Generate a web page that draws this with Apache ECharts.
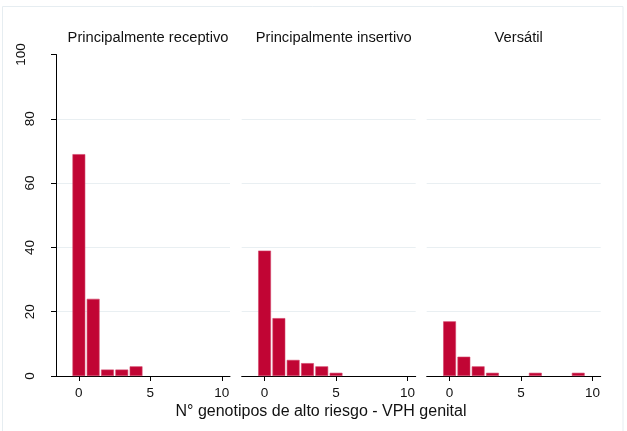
<!DOCTYPE html>
<html>
<head>
<meta charset="utf-8">
<script src="https://cdn.jsdelivr.net/npm/echarts@6/dist/echarts.min.js"></script>
<style>html,body{margin:0;padding:0;background:#fff}#c{width:627px;height:431px}</style>
</head>
<body>
<div id="c"></div>
<script>
const panelTitles = ['Principalmente receptivo', 'Principalmente insertivo', 'Versátil'];
const genotypeCounts = [0, 1, 2, 3, 4, 5, 6, 7, 8, 9];
const receptivo = [69, 24, 2, 2, 3, 0, 0, 0, 0, 0];
const insertivo = [39, 18, 5, 4, 3, 1, 0, 0, 0, 0];
const versatil = [17, 6, 3, 1, 0, 0, 1, 0, 0, 1];
const xTicks = [0, 5, 10];
const yTicks = [0, 20, 40, 60, 80, 100];
const xTitle = 'N° genotipos de alto riesgo - VPH genital';

const panels = [receptivo, insertivo, versatil];
const lefts = [56, 241.7, 426.7];
const W = 174, TOP = 54.5, H = 321.5;
const FONT = 'Liberation Sans, Arial, sans-serif';
const BAR = '#c10534';

const grid = [], xAxis = [], yAxis = [], series = [], title = [];
panels.forEach((vals, i) => {
  grid.push({left: lefts[i], top: TOP, width: W, height: H, containLabel: false});
  xAxis.push({
    type: 'value', gridIndex: i, min: -1.6, max: 10.57,
    axisLine: {show: true, onZero: false, lineStyle: {color: '#000', width: 1}},
    axisTick: {show: true, inside: false, length: 5, customValues: xTicks, lineStyle: {color: '#000'}},
    axisLabel: {show: true, customValues: xTicks, fontSize: 13.5, color: '#111', fontFamily: FONT, margin: 10},
    splitLine: {show: false}
  });
  yAxis.push({
    type: 'value', gridIndex: i, min: 0, max: 100, interval: 20,
    axisLine: {show: i === 0, onZero: false, lineStyle: {color: '#000', width: 1}},
    axisTick: {show: i === 0, length: 5, lineStyle: {color: '#000'}},
    axisLabel: {show: i === 0, rotate: 90, fontSize: 13.5, color: '#111', fontFamily: FONT, margin: 18.5,
      formatter: v => yTicks.includes(v) ? (v === 100 ? '{h|' + v + '}' : '{n|' + v + '}') : '',
      rich: {
        n: {fontSize: 13.5, color: '#111', fontFamily: FONT},
        h: {fontSize: 13.5, color: '#111', fontFamily: FONT, padding: [0, 0, 9, 0]}
      }},
    splitLine: {show: true, lineStyle: {color: ['transparent', '#e9eff2', '#e9eff2', '#e9eff2', '#e9eff2', 'transparent'], width: 1}}
  });
  const data = [];
  vals.forEach((v, k) => { if (v > 0) data.push([genotypeCounts[k], v]); });
  series.push({
    type: 'bar', xAxisIndex: i, yAxisIndex: i, data: data, barWidth: 12.8,
    itemStyle: {color: BAR, borderColor: '#d4456a', borderWidth: 0.6},
    silent: true, animation: false
  });
  title.push({
    text: panelTitles[i], left: lefts[i] + W / 2, top: 25, textAlign: 'center',
    textStyle: {fontSize: 14.7, fontWeight: 'normal', color: '#111', fontFamily: FONT}
  });
});
title.push({
  text: xTitle, left: 316, top: 399, textAlign: 'center',
  textStyle: {fontSize: 16, fontWeight: 'normal', color: '#111', fontFamily: FONT}
});

const chart = echarts.init(document.getElementById('c'), null, {renderer: 'canvas'});
chart.setOption({
  backgroundColor: '#fff',
  animation: false,
  title: title,
  grid: grid,
  xAxis: xAxis,
  yAxis: yAxis,
  series: series,
  graphic: [{
    type: 'rect', shape: {x: 2.5, y: 6.5, width: 620.5, height: 440}, silent: true,
    style: {fill: 'none', stroke: '#e6edf1', lineWidth: 1}
  }]
});
</script>
</body>
</html>
